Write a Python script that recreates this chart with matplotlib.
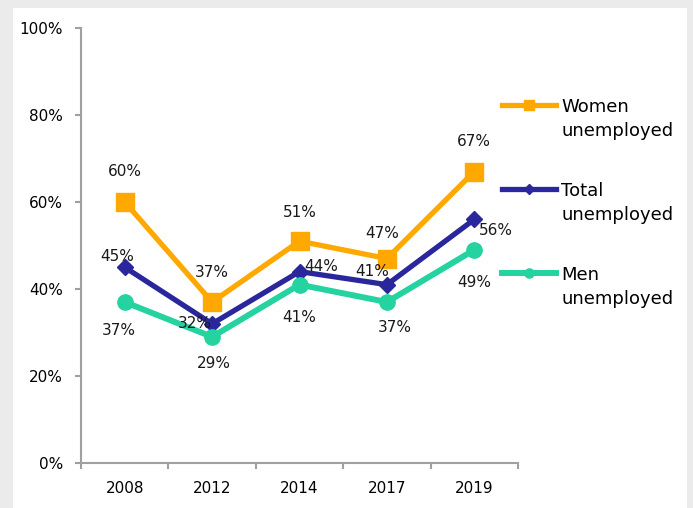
import matplotlib.pyplot as plt
from matplotlib.patches import Rectangle
from matplotlib.lines import Line2D
from matplotlib.ticker import FuncFormatter, FixedLocator

anos     = ["2008", "2012", "2014", "2017", "2019"]
mulheres = [60, 37, 51, 47, 67]
total    = [45, 32, 44, 41, 56]
homens   = [37, 29, 41, 37, 49]
rotulos  = ["Women\nunemployed", "Total\nunemployed", "Men\nunemployed"]

CORES = {"mulheres": "#FFA800", "total": "#29279B", "homens": "#24D3A0"}
# deslocamento dos rotulos (px) por ponto
OFF_M = [(0, 30), (0, 30), (0, 29), (-5, 25), (0, 30)]
OFF_T = [(-8, 11), (-17, 0), (22, 5), (-15, 13), (22, -11)]
OFF_H = [(-6, -28), (2, -27), (0, -33), (8, -25), (0, -33)]

plt.rcParams["font.family"] = ["DejaVu Sans"]
fig = plt.figure(figsize=(6.93, 5.08), dpi=100, facecolor="#ebebeb")
fig.patches.append(Rectangle((13 / 693, 0), 674 / 693, 500 / 508, transform=fig.transFigure,
                             facecolor="white", edgecolor="none", zorder=-10))
ax = fig.add_axes([81 / 693, 1 - 463 / 508, 437 / 693, 435 / 508])
ax.set_facecolor("none")

x = list(range(len(anos)))
series = [
    (mulheres, "mulheres", "s", 13, 3.8, OFF_M),
    (total, "total", "D", 8.5, 3.8, OFF_T),
    (homens, "homens", "o", 11, 4.3, OFF_H),
]
handles = []
for vals, chave, mk, ms, lw, offs in series:
    ys = [v / 100 for v in vals]
    ax.plot(x, ys, color=CORES[chave], lw=lw, marker=mk, ms=ms, zorder=3, clip_on=False)
    for xi, yi, v, (dx, dy) in zip(x, ys, vals, offs):
        ax.annotate(f"{v}%", xy=(xi, yi), xytext=(dx, dy), textcoords="offset pixels",
                    ha="center", va="center", fontsize=11, color="#1a1a1a", zorder=5)
    handles.append(Line2D([], [], color=CORES[chave], lw=lw, marker=mk, ms=ms * 0.6))

ax.set_xlim(-0.5, len(anos) - 0.5)
ax.set_ylim(0, 1.0)
ax.set_yticks([0, 0.2, 0.4, 0.6, 0.8, 1.0])
ax.yaxis.set_major_formatter(FuncFormatter(lambda v, p: f"{v * 100:.0f}%"))
ax.set_xticks(x)
ax.set_xticklabels(anos)
ax.xaxis.set_minor_locator(FixedLocator([i - 0.5 for i in range(len(anos) + 1)]))
ax.tick_params(axis="x", which="major", length=0, pad=13, labelsize=11)
ax.tick_params(axis="x", which="minor", length=4, width=1.5, color="#a0a0a0")
ax.tick_params(axis="y", length=4, width=1.5, color="#a0a0a0", labelsize=11, pad=9)
for s in ["top", "right"]:
    ax.spines[s].set_visible(False)
for s in ["left", "bottom"]:
    ax.spines[s].set_color("#a0a0a0")
    ax.spines[s].set_linewidth(1.5)

leg = fig.legend(handles, rotulos, loc="upper left", bbox_to_anchor=(502 / 693, 1 - 98 / 508),
                 frameon=False, fontsize=13, handlelength=3.0, handletextpad=0.28,
                 handleheight=1.0, labelspacing=2.35, borderaxespad=0, borderpad=0)
for t in leg.get_texts():
    t.set_linespacing(1.4)
# marcador da legenda alinhado com a primeira linha do texto
for col in leg._legend_handle_box.get_children():
    for hp in col.get_children():
        hp.align = "top"

fig.savefig("out.png", dpi=100, facecolor=fig.get_facecolor())
